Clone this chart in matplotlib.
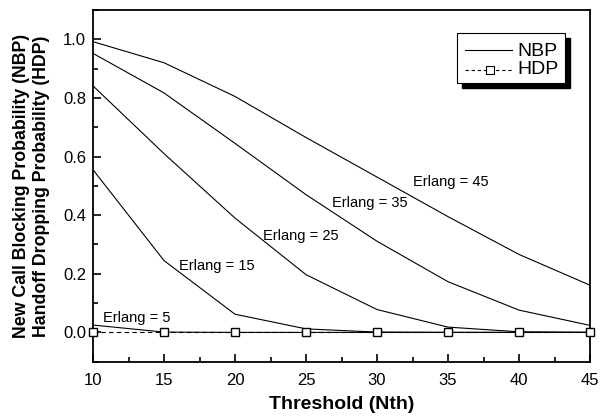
import matplotlib
matplotlib.use("Agg")
import matplotlib.pyplot as plt
from matplotlib.ticker import MultipleLocator
from matplotlib.patches import Rectangle
from matplotlib.lines import Line2D

plt.rcParams['font.family'] = ['Liberation Sans', 'DejaVu Sans']

threshold = [10, 15, 20, 25, 30, 35, 40, 45]
nbp_e5 = [0.025, 0.001, 0.0, 0.0, 0.0, 0.0, 0.0, 0.0]
nbp_e15 = [0.555, 0.245, 0.062, 0.012, 0.001, 0.0, 0.0, 0.0]
nbp_e25 = [0.841, 0.61, 0.39, 0.197, 0.078, 0.018, 0.002, 0.0]
nbp_e35 = [0.952, 0.817, 0.645, 0.47, 0.311, 0.173, 0.076, 0.024]
nbp_e45 = [0.992, 0.92, 0.805, 0.665, 0.53, 0.395, 0.266, 0.161]
hdp = [0.0, 0.0, 0.0, 0.0, 0.0, 0.0, 0.0, 0.0]
erlang_labels = ["Erlang = 5", "Erlang = 15", "Erlang = 25", "Erlang = 35", "Erlang = 45"]
label_pos_x = [13.1, 18.7, 24.6, 29.5, 35.2]
label_pos_y = [0.048, 0.225, 0.328, 0.44, 0.514]

fig = plt.figure(figsize=(6.0, 4.19), dpi=100)
ax = fig.add_axes([93/600, 1-361.7/419, (590-93)/600, (361.7-10)/419])

for s in [nbp_e5, nbp_e15, nbp_e25, nbp_e35, nbp_e45]:
    ax.plot(threshold, s, color='black', lw=0.8)
ax.plot(threshold, hdp, color='black', lw=0.8, ls=(0, (4, 3)), marker='s',
        markersize=6, markerfacecolor='white', markeredgecolor='black',
        markeredgewidth=1.0, clip_on=False, zorder=5)

for t, x, y in zip(erlang_labels, label_pos_x, label_pos_y):
    ax.text(x, y, t, ha='center', va='center', fontsize=10.5)

ax.set_xlim(10, 45)
ax.set_ylim(-0.1, 1.1)
ax.xaxis.set_major_locator(MultipleLocator(5))
ax.xaxis.set_minor_locator(MultipleLocator(2.5))
ax.yaxis.set_minor_locator(MultipleLocator(0.1))
ax.set_yticks([0.0, 0.2, 0.4, 0.6, 0.8, 1.0])
ax.set_yticklabels(['0.0', '0.2', '0.4', '0.6', '0.8', '1.0'])
ax.tick_params(which='both', direction='in', top=False, right=False, width=1.2, labelsize=12)
ax.tick_params(which='major', length=6, pad=5)
ax.tick_params(which='minor', length=3.5)
ax.tick_params(axis='x', which='major', pad=8)
for sp in ax.spines.values():
    sp.set_linewidth(1.3)

ax.set_xlabel('Threshold (Nth)', fontsize=14, fontweight='bold', labelpad=6)
ax.set_ylabel('New Call Blocking Probability (NBP)\nHandoff Dropping Probability (HDP)',
              fontsize=12.8, fontweight='bold', labelpad=9, linespacing=1.3)

# legend with shadow
lx0, ly0, lx1, ly1 = 457, 33, 565, 83
def fx(px):
    return px/600
def fy(py):
    return 1-py/419
shadow = Rectangle((fx(lx0+5), fy(ly1+5)), fx(lx1)-fx(lx0), fy(ly0)-fy(ly1),
                   transform=fig.transFigure, facecolor='black', edgecolor='black', zorder=10)
box = Rectangle((fx(lx0), fy(ly1)), fx(lx1)-fx(lx0), fy(ly0)-fy(ly1),
                transform=fig.transFigure, facecolor='white', edgecolor='black', lw=0.8, zorder=11)
fig.patches.extend([shadow, box])
l1 = Line2D([fx(465), fx(512)], [fy(50), fy(50)], transform=fig.transFigure, color='black', lw=0.8, zorder=12)
l2 = Line2D([fx(465), fx(512)], [fy(70), fy(70)], transform=fig.transFigure, color='black', lw=0.8,
            ls=(0, (3, 2.5)), zorder=12)
m2 = Line2D([fx(490)], [fy(70)], transform=fig.transFigure, marker='s', markersize=6,
            markerfacecolor='white', markeredgecolor='black', markeredgewidth=0.8, zorder=13)
fig.lines.extend([l1, l2, m2])
fig.text(fx(517), fy(51.5), 'NBP', fontsize=14, va='center', ha='left', zorder=12)
fig.text(fx(517), fy(70), 'HDP', fontsize=14, va='center', ha='left', zorder=12)

fig.savefig('out.png', dpi=100)
